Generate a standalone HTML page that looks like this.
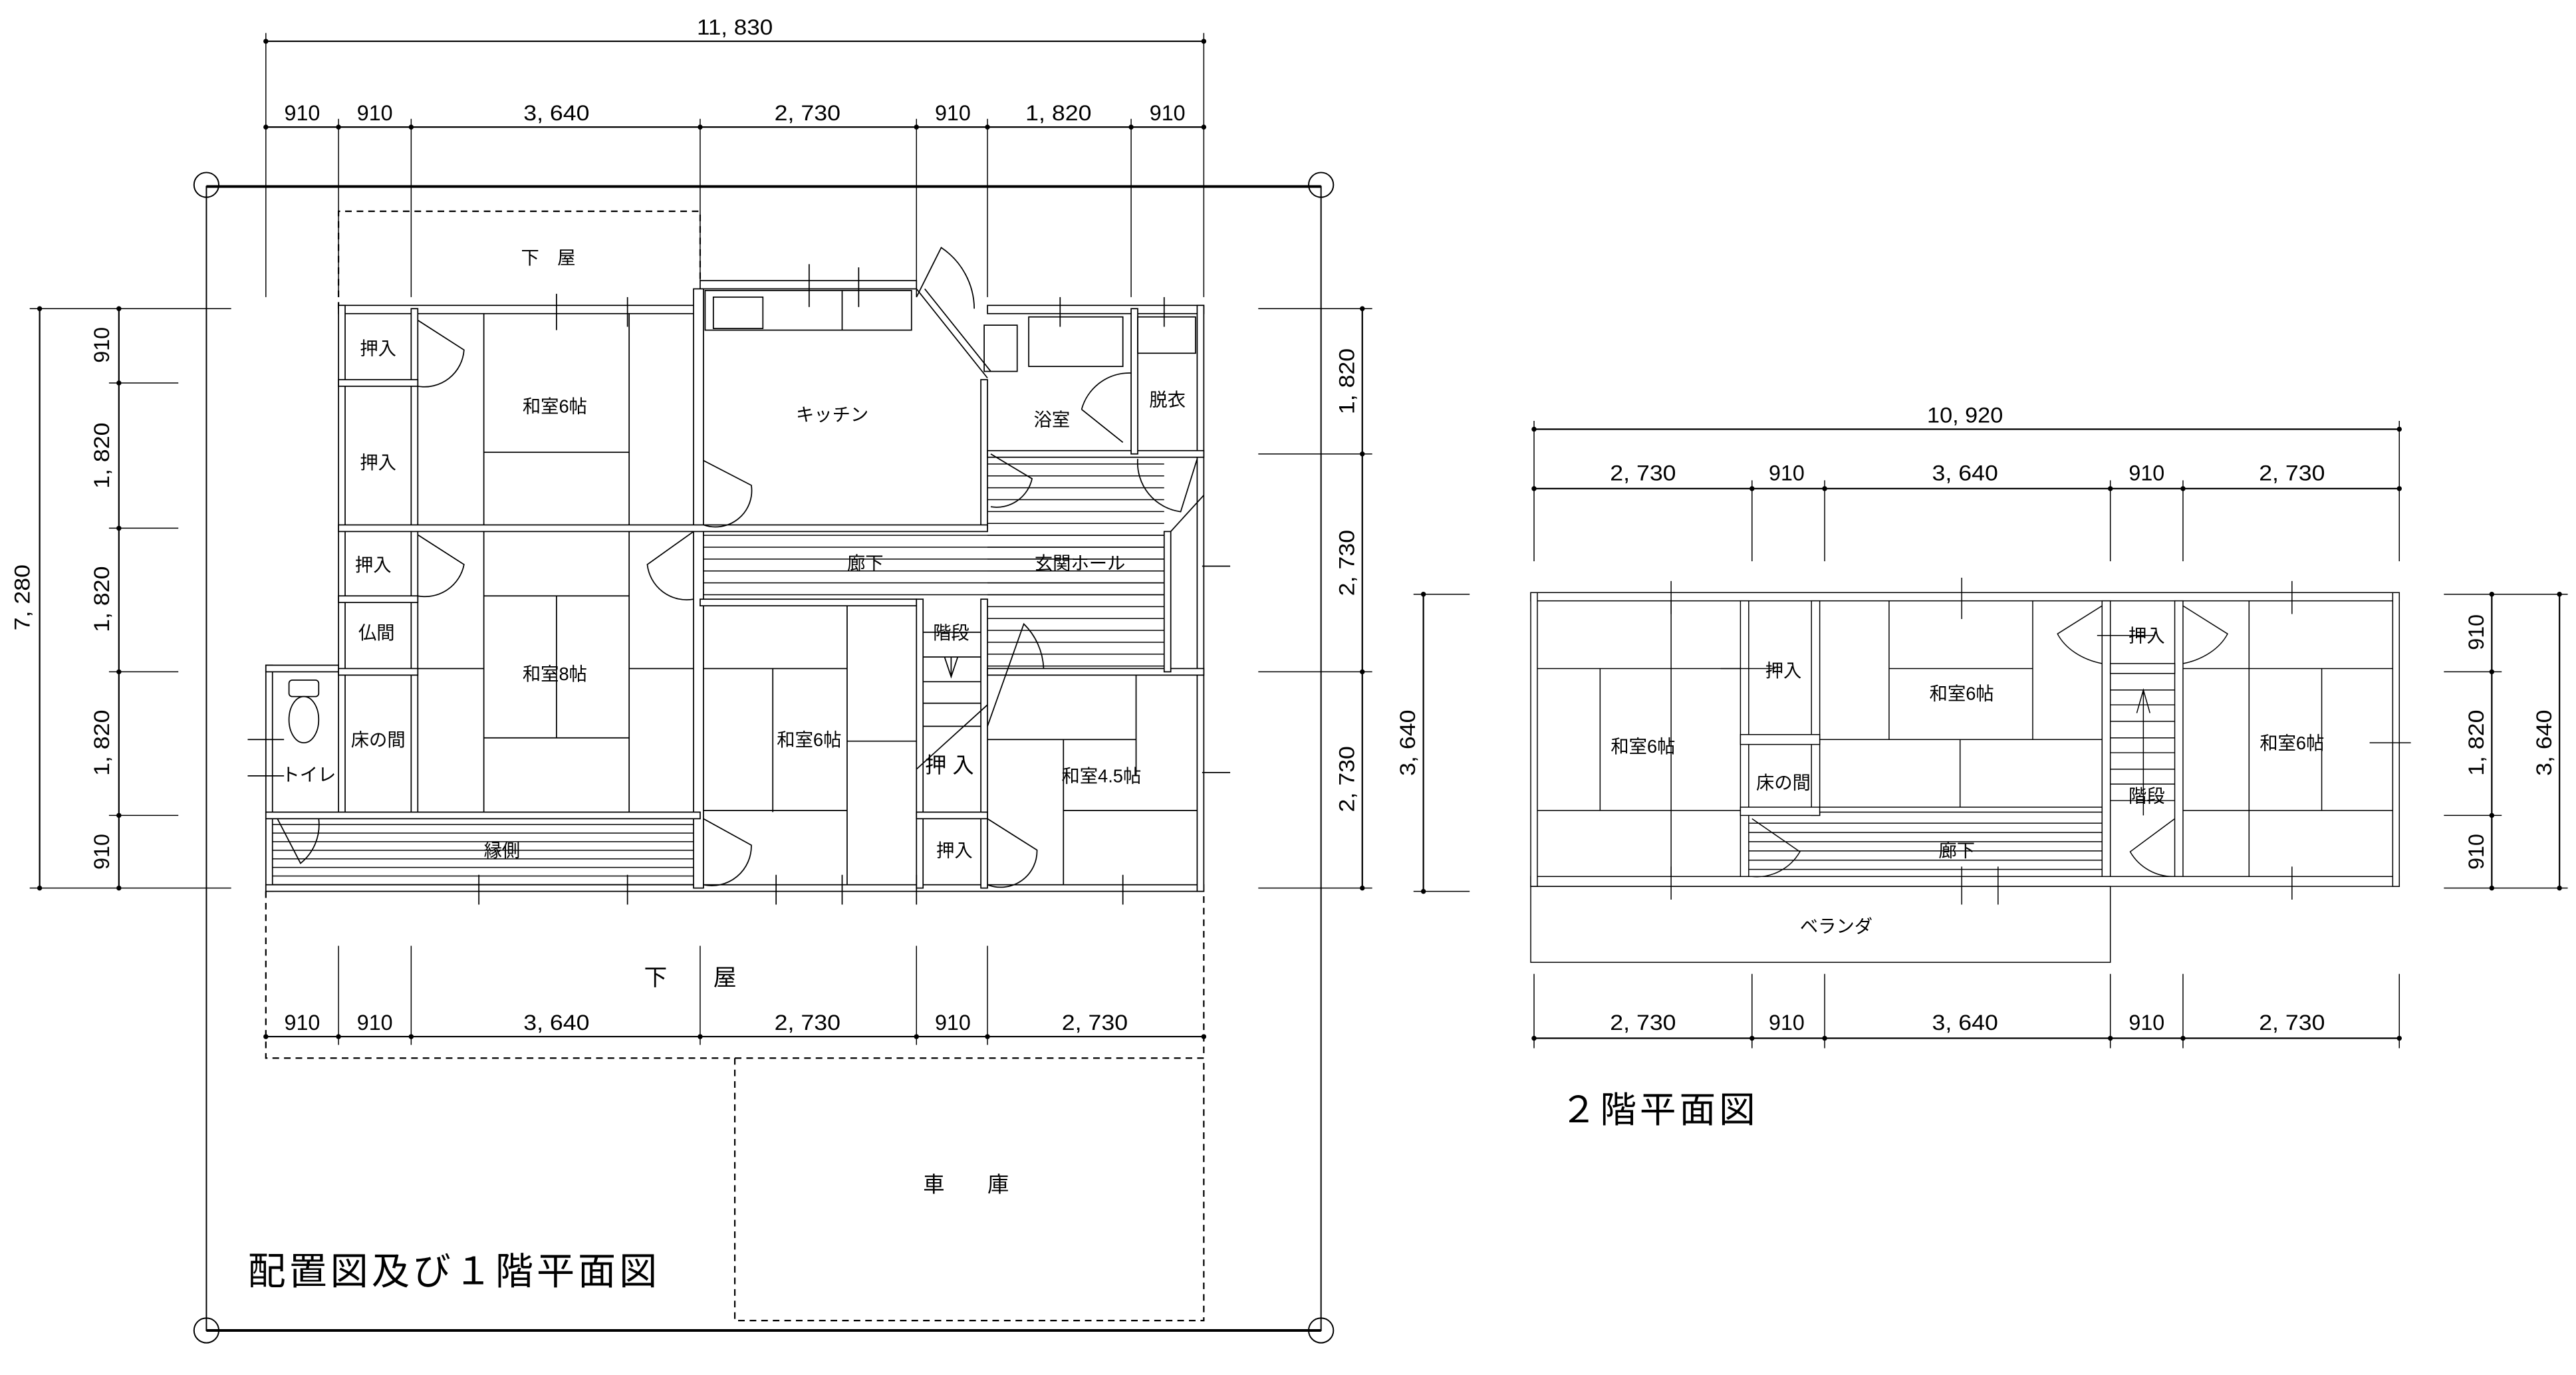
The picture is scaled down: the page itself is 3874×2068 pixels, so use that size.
<!DOCTYPE html>
<html><head><meta charset="utf-8"><style>
html,body{margin:0;padding:0;background:#fff;}
svg{display:block}
.d{font-family:"Liberation Sans Narrow","Liberation Sans",sans-serif;font-size:13px;fill:#000}
.r{font-family:"Liberation Sans","Noto Sans CJK JP",sans-serif;font-size:11px;fill:#000}
</style></head><body>
<svg xmlns="http://www.w3.org/2000/svg" width="3874" height="2068" viewBox="0 0 1560 833" preserveAspectRatio="none">
<defs>
<pattern id="h1" width="10" height="5.2" patternUnits="userSpaceOnUse"><line x1="0" y1="0.3" x2="10" y2="0.3" stroke="#000" stroke-width="0.6"/></pattern>
<pattern id="h2" width="10" height="7.2" patternUnits="userSpaceOnUse"><line x1="0" y1="0.3" x2="10" y2="0.3" stroke="#000" stroke-width="0.6"/></pattern>
<pattern id="h3" width="10" height="5.6" patternUnits="userSpaceOnUse"><line x1="0" y1="0.3" x2="10" y2="0.3" stroke="#000" stroke-width="0.6"/></pattern>
</defs>
<g fill="none" stroke="#000" stroke-width="0.6">
<!-- ===== 1F dimensions ===== -->
<line x1="161" y1="25" x2="729" y2="25" stroke-width="0.9"/>
<line x1="161" y1="77" x2="729" y2="77" stroke-width="0.9"/>
<line x1="161" y1="20" x2="161" y2="180"/><line x1="729" y1="20" x2="729" y2="180"/>
<line x1="205" y1="72" x2="205" y2="180"/><line x1="249" y1="72" x2="249" y2="180"/>
<line x1="424" y1="72" x2="424" y2="170"/><line x1="555" y1="72" x2="555" y2="180"/>
<line x1="598" y1="72" x2="598" y2="180"/><line x1="685" y1="72" x2="685" y2="180"/>
<line x1="161" y1="628" x2="729" y2="628" stroke-width="0.9"/>
<line x1="205" y1="573" x2="205" y2="633"/><line x1="249" y1="573" x2="249" y2="633"/>
<line x1="424" y1="573" x2="424" y2="633"/><line x1="555" y1="573" x2="555" y2="633"/>
<line x1="598" y1="573" x2="598" y2="633"/>
<line x1="24" y1="187" x2="24" y2="538" stroke-width="0.9"/>
<line x1="72" y1="187" x2="72" y2="538" stroke-width="0.9"/>
<line x1="18" y1="187" x2="140" y2="187"/><line x1="18" y1="538" x2="140" y2="538"/>
<line x1="66" y1="232" x2="108" y2="232"/><line x1="66" y1="320" x2="108" y2="320"/>
<line x1="66" y1="407" x2="108" y2="407"/><line x1="66" y1="494" x2="108" y2="494"/>
<line x1="825" y1="187" x2="825" y2="538" stroke-width="0.9"/>
<line x1="762" y1="187" x2="831" y2="187"/><line x1="762" y1="275" x2="831" y2="275"/>
<line x1="762" y1="407" x2="831" y2="407"/><line x1="762" y1="538" x2="831" y2="538"/>
<!-- site -->
<rect x="125" y="113" width="675" height="693" stroke-width="0.8"/>
<line x1="125" y1="113" x2="800" y2="113" stroke-width="1.6"/>
<line x1="125" y1="806" x2="800" y2="806" stroke-width="1.6"/>
<circle cx="125" cy="112" r="7.5" stroke-width="0.8"/><circle cx="800" cy="112" r="7.5" stroke-width="0.8"/>
<circle cx="125" cy="806" r="7.5" stroke-width="0.8"/><circle cx="800" cy="806" r="7.5" stroke-width="0.8"/>
<!-- dashed -->
<path d="M205,187 V128 H424 V170" stroke-dasharray="4,3" stroke-width="0.9"/>
<path d="M161,540 V641 H729 V540" stroke-dasharray="4,3" stroke-width="0.9"/>
<path d="M445,641 V800 H729 V641" stroke-dasharray="4,3" stroke-width="0.9"/>
</g>
<g fill="#000">
<circle cx="161" cy="25" r="1.5"/><circle cx="729" cy="25" r="1.5"/>
<circle cx="161" cy="77" r="1.5"/><circle cx="205" cy="77" r="1.5"/><circle cx="249" cy="77" r="1.5"/><circle cx="424" cy="77" r="1.5"/><circle cx="555" cy="77" r="1.5"/><circle cx="598" cy="77" r="1.5"/><circle cx="685" cy="77" r="1.5"/><circle cx="729" cy="77" r="1.5"/>
<circle cx="161" cy="628" r="1.5"/><circle cx="205" cy="628" r="1.5"/><circle cx="249" cy="628" r="1.5"/><circle cx="424" cy="628" r="1.5"/><circle cx="555" cy="628" r="1.5"/><circle cx="598" cy="628" r="1.5"/><circle cx="729" cy="628" r="1.5"/>
<circle cx="24" cy="187" r="1.5"/><circle cx="24" cy="538" r="1.5"/>
<circle cx="72" cy="187" r="1.5"/><circle cx="72" cy="232" r="1.5"/><circle cx="72" cy="320" r="1.5"/><circle cx="72" cy="407" r="1.5"/><circle cx="72" cy="494" r="1.5"/><circle cx="72" cy="538" r="1.5"/>
<circle cx="825" cy="187" r="1.5"/><circle cx="825" cy="275" r="1.5"/><circle cx="825" cy="407" r="1.5"/><circle cx="825" cy="538" r="1.5"/>
</g>
<g class="d" text-anchor="middle">
<text x="445" y="21" textLength="46" lengthAdjust="spacingAndGlyphs">11, 830</text>
<text x="183" y="73">910</text><text x="227" y="73">910</text>
<text x="337" y="73" textLength="40" lengthAdjust="spacingAndGlyphs">3, 640</text>
<text x="489" y="73" textLength="40" lengthAdjust="spacingAndGlyphs">2, 730</text>
<text x="577" y="73">910</text>
<text x="641" y="73" textLength="40" lengthAdjust="spacingAndGlyphs">1, 820</text>
<text x="707" y="73">910</text>
<text x="183" y="624">910</text><text x="227" y="624">910</text>
<text x="337" y="624" textLength="40" lengthAdjust="spacingAndGlyphs">3, 640</text>
<text x="489" y="624" textLength="40" lengthAdjust="spacingAndGlyphs">2, 730</text>
<text x="577" y="624">910</text>
<text x="663" y="624" textLength="40" lengthAdjust="spacingAndGlyphs">2, 730</text>
<text transform="translate(18,362) rotate(-90)" textLength="40" lengthAdjust="spacingAndGlyphs">7, 280</text>
<text transform="translate(66,209) rotate(-90)">910</text>
<text transform="translate(66,276) rotate(-90)" textLength="40" lengthAdjust="spacingAndGlyphs">1, 820</text>
<text transform="translate(66,363) rotate(-90)" textLength="40" lengthAdjust="spacingAndGlyphs">1, 820</text>
<text transform="translate(66,450) rotate(-90)" textLength="40" lengthAdjust="spacingAndGlyphs">1, 820</text>
<text transform="translate(66,516) rotate(-90)">910</text>
<text transform="translate(820,231) rotate(-90)" textLength="40" lengthAdjust="spacingAndGlyphs">1, 820</text>
<text transform="translate(820,341) rotate(-90)" textLength="40" lengthAdjust="spacingAndGlyphs">2, 730</text>
<text transform="translate(820,472) rotate(-90)" textLength="40" lengthAdjust="spacingAndGlyphs">2, 730</text>
</g>

<!-- ===== 1F plan ===== -->
<g fill="none" stroke="#000" stroke-width="0.7">
<!-- hatched areas -->
<rect x="165" y="496" width="255" height="40" fill="url(#h1)" stroke="none"/>
<rect x="426" y="322" width="279" height="41" fill="url(#h2)" stroke="none"/>
<rect x="598" y="279" width="107" height="126" fill="url(#h2)" stroke="none"/>
<!-- walls (thin rects) -->
<rect x="205" y="185" width="219" height="5" fill="#fff"/>
<rect x="424" y="170" width="131" height="5" fill="#fff"/>
<rect x="598" y="185" width="131" height="5" fill="#fff"/>
<rect x="205" y="185" width="4" height="309" fill="#fff"/>
<rect x="161" y="403" width="4" height="137" fill="#fff"/>
<rect x="161" y="403" width="44" height="4" fill="#fff"/>
<rect x="161" y="536" width="568" height="4" fill="#fff"/>
<rect x="725" y="185" width="4" height="355" fill="#fff"/>
<rect x="249" y="187" width="4" height="307" fill="#fff"/>
<rect x="420" y="175" width="6" height="363" fill="#fff"/>
<rect x="594" y="230" width="4" height="90" fill="#fff"/>
<rect x="205" y="318" width="393" height="4" fill="#fff"/>
<rect x="205" y="230" width="48" height="4" fill="#fff"/>
<rect x="205" y="361" width="48" height="4" fill="#fff"/>
<rect x="205" y="405" width="48" height="4" fill="#fff"/>
<rect x="161" y="492" width="263" height="4" fill="#fff"/>
<rect x="598" y="273" width="131" height="4" fill="#fff"/>
<rect x="685" y="187" width="4" height="88" fill="#fff"/>
<rect x="424" y="363" width="131" height="4" fill="#fff"/>
<rect x="555" y="363" width="4" height="175" fill="#fff"/>
<rect x="594" y="363" width="4" height="175" fill="#fff"/>
<rect x="598" y="405" width="131" height="4" fill="#fff"/>
<rect x="555" y="492" width="43" height="4" fill="#fff"/>
<rect x="705" y="322" width="4" height="85" fill="#fff"/>
<path d="M555,175 L598,229 M560,175 L600,225"/>
<path d="M729,300 L709,322"/>
<!-- kitchen counter / bath -->
<rect x="427" y="176" width="125" height="24"/>
<rect x="432" y="180" width="30" height="19"/>
<line x1="510" y1="176" x2="510" y2="200"/>
<rect x="596" y="197" width="20" height="28"/>
<rect x="623" y="192" width="57" height="30"/>
<rect x="689" y="192" width="35" height="22"/>
<!-- toilet -->
<rect x="175" y="412" width="18" height="10" rx="2"/>
<ellipse cx="184" cy="436" rx="9" ry="14"/>
<!-- stairs -->
<path d="M559,383 H594 M559,398 H594 M559,413 H594 M559,426 H594 M559,440 H594"/>
<path d="M576,398 V410 M572,398 L576,410 L580,398"/>
<path d="M598,427 L555,466"/>
<!-- tatami -->
<path d="M293,190 V318 M381,190 V318 M293,274 H381"/>
<path d="M293,322 V492 M381,322 V492 M293,361 H381 M293,447 H381 M337,361 V447 M253,405 H293 M381,405 H420"/>
<path d="M513,367 V536 M426,405 H513 M468,405 V492 M426,491 H513 M513,449 H555"/>
<path d="M688,409 V470 M598,448 H688 M644,448 V536 M644,491 H725"/>
<!-- doors -->
<path d="M253,194 L281,212 A24,24 0 0 1 253,234"/>
<path d="M253,324 L281,342 A24,24 0 0 1 253,361"/>
<path d="M426,279 L455,294 A22,22 0 0 1 426,318"/>
<path d="M420,322 L392,342 A24,24 0 0 0 420,363"/>
<path d="M426,496 L455,512 A24,24 0 0 1 426,536"/>
<path d="M598,496 L628,515 A22,22 0 0 1 598,536"/>
<path d="M600,275 L625,290 A22,22 0 0 1 600,307"/>
<path d="M598,440 L620,378 A40,40 0 0 1 632,405"/>
<path d="M555,180 L570,150 A45,45 0 0 1 590,187"/>
<path d="M655,248 L680,268 M655,248 A30,30 0 0 1 685,226"/>
<path d="M689,278 A30,30 0 0 0 715,310 L725,278"/>
<path d="M168,496 L182,523 A30,30 0 0 0 193,496"/>
<!-- cross marks -->
<path d="M337,178 V200 M380,180 V198 M490,160 V186 M520,162 V186 M642,180 V198 M705,180 V198 M150,448 H172 M150,470 H172 M728,343 H745 M728,468 H745 M290,530 V548 M380,530 V548 M470,530 V548 M510,530 V548 M555,530 V548 M680,530 V548"/>
</g>
<g class="r" text-anchor="middle">
<text x="332" y="160">下　屋</text>
<text x="418" y="597" style="font-size:14px">下　　屋</text>
<text x="585" y="722" style="font-size:13px">車　　庫</text>
<text x="229" y="215">押入</text><text x="229" y="284">押入</text><text x="226" y="346">押入</text>
<text x="228" y="387">仏間</text><text x="229" y="452">床の間</text><text x="187" y="473">トイレ</text>
<text x="336" y="250">和室6帖</text><text x="336" y="412">和室8帖</text>
<text x="504" y="255">キッチン</text><text x="637" y="258">浴室</text><text x="707" y="246">脱衣</text>
<text x="524" y="345">廊下</text><text x="654" y="345">玄関ホール</text>
<text x="576" y="387">階段</text><text x="490" y="452">和室6帖</text>
<text x="575" y="468" style="font-size:13px">押 入</text><text x="578" y="519">押入</text>
<text x="667" y="474">和室4.5帖</text><text x="304" y="519">縁側</text>
</g>
<text x="150" y="778" style="font-family:'Liberation Sans','Noto Sans CJK JP',sans-serif;font-size:23px;letter-spacing:2px">配置図及び１階平面図</text>

<!-- ===== 2F ===== -->
<g fill="none" stroke="#000" stroke-width="0.6">
<line x1="929" y1="260" x2="1453" y2="260" stroke-width="0.9"/>
<line x1="929" y1="296" x2="1453" y2="296" stroke-width="0.9"/>
<line x1="929" y1="629" x2="1453" y2="629" stroke-width="0.9"/>
<path d="M929,255 V340 M1453,255 V340 M1061,291 V340 M1105,291 V340 M1278,291 V340 M1322,291 V340"/>
<path d="M929,590 V635 M1061,590 V635 M1105,590 V635 M1278,590 V635 M1322,590 V635 M1453,590 V635"/>
<line x1="862" y1="360" x2="862" y2="540" stroke-width="0.9"/>
<path d="M856,360 H890 M856,540 H890"/>
<line x1="1509" y1="360" x2="1509" y2="538" stroke-width="0.9"/>
<line x1="1550" y1="360" x2="1550" y2="538" stroke-width="0.9"/>
<path d="M1480,360 H1555 M1480,407 H1515 M1480,494 H1515 M1480,538 H1555"/>
<rect x="1059" y="494" width="219" height="37" fill="url(#h3)" stroke="none"/>
<!-- walls -->
<rect x="927" y="359" width="526" height="5" fill="#fff"/>
<rect x="927" y="531" width="526" height="6" fill="#fff"/>
<rect x="927" y="359" width="4" height="178" fill="#fff"/>
<rect x="1449" y="359" width="4" height="178" fill="#fff"/>
<rect x="1054" y="364" width="5" height="167" fill="#fff"/>
<rect x="1097" y="364" width="5" height="130" fill="#fff"/>
<rect x="1273" y="364" width="5" height="167" fill="#fff"/>
<rect x="1317" y="364" width="5" height="167" fill="#fff"/>
<rect x="1054" y="445" width="48" height="6" fill="#fff"/>
<rect x="1054" y="489" width="48" height="5" fill="#fff"/>
<rect x="1102" y="489" width="171" height="3" fill="#fff"/>
<rect x="1278" y="402" width="39" height="6" fill="#fff"/>
<rect x="927" y="537" width="351" height="46"/>
<!-- stairs -->
<path d="M1278,418 H1317 M1278,427 H1317 M1278,437 H1317 M1278,447 H1317 M1278,456 H1317 M1278,466 H1317 M1278,475 H1317 M1278,485 H1317"/>
<path d="M1298,494 V418 M1294,432 L1298,418 L1302,432"/>
<!-- tatami -->
<path d="M931,405 H1054 M931,491 H1054 M969,405 V491 M1012,364 V531"/>
<path d="M1144,364 V448 M1231,364 V448 M1144,405 H1231 M1102,448 H1273 M1187,448 V489"/>
<path d="M1322,405 H1449 M1322,491 H1449 M1362,364 V531 M1406,405 V491"/>
<!-- doors -->
<path d="M1273,367 L1246,384 A40,30 0 0 0 1273,402"/>
<path d="M1322,367 L1349,384 A40,30 0 0 1 1322,402"/>
<path d="M1061,496 L1090,516 A30,30 0 0 1 1061,531"/>
<path d="M1317,496 L1290,516 A30,30 0 0 0 1317,531"/>
<!-- crosses -->
<path d="M1012,352 V372 M1188,350 V375 M1388,352 V372 M1042,405 H1075 M1270,385 H1305 M1435,450 H1460 M1012,525 V545 M1188,525 V548 M1210,525 V548 M1388,525 V545"/>
</g>
<g fill="#000">
<circle cx="929" cy="260" r="1.5"/><circle cx="1453" cy="260" r="1.5"/>
<circle cx="929" cy="296" r="1.5"/><circle cx="1061" cy="296" r="1.5"/><circle cx="1105" cy="296" r="1.5"/><circle cx="1278" cy="296" r="1.5"/><circle cx="1322" cy="296" r="1.5"/><circle cx="1453" cy="296" r="1.5"/>
<circle cx="929" cy="629" r="1.5"/><circle cx="1061" cy="629" r="1.5"/><circle cx="1105" cy="629" r="1.5"/><circle cx="1278" cy="629" r="1.5"/><circle cx="1322" cy="629" r="1.5"/><circle cx="1453" cy="629" r="1.5"/>
<circle cx="862" cy="360" r="1.5"/><circle cx="862" cy="540" r="1.5"/>
<circle cx="1509" cy="360" r="1.5"/><circle cx="1509" cy="407" r="1.5"/><circle cx="1509" cy="494" r="1.5"/><circle cx="1509" cy="538" r="1.5"/>
<circle cx="1550" cy="360" r="1.5"/><circle cx="1550" cy="538" r="1.5"/>
</g>
<g class="d" text-anchor="middle">
<text x="1190" y="256" textLength="46" lengthAdjust="spacingAndGlyphs">10, 920</text>
<text x="995" y="291" textLength="40" lengthAdjust="spacingAndGlyphs">2, 730</text>
<text x="1082" y="291">910</text>
<text x="1190" y="291" textLength="40" lengthAdjust="spacingAndGlyphs">3, 640</text>
<text x="1300" y="291">910</text>
<text x="1388" y="291" textLength="40" lengthAdjust="spacingAndGlyphs">2, 730</text>
<text x="995" y="624" textLength="40" lengthAdjust="spacingAndGlyphs">2, 730</text>
<text x="1082" y="624">910</text>
<text x="1190" y="624" textLength="40" lengthAdjust="spacingAndGlyphs">3, 640</text>
<text x="1300" y="624">910</text>
<text x="1388" y="624" textLength="40" lengthAdjust="spacingAndGlyphs">2, 730</text>
<text transform="translate(857,450) rotate(-90)" textLength="40" lengthAdjust="spacingAndGlyphs">3, 640</text>
<text transform="translate(1504,383) rotate(-90)">910</text>
<text transform="translate(1504,450) rotate(-90)" textLength="40" lengthAdjust="spacingAndGlyphs">1, 820</text>
<text transform="translate(1504,516) rotate(-90)">910</text>
<text transform="translate(1545,450) rotate(-90)" textLength="40" lengthAdjust="spacingAndGlyphs">3, 640</text>
</g>
<g class="r" text-anchor="middle">
<text x="995" y="456">和室6帖</text><text x="1080" y="410">押入</text><text x="1080" y="478">床の間</text>
<text x="1188" y="424">和室6帖</text><text x="1300" y="389">押入</text><text x="1300" y="486">階段</text>
<text x="1388" y="454">和室6帖</text><text x="1185" y="519">廊下</text><text x="1112" y="565">ベランダ</text>
</g>
<text x="945" y="680" style="font-family:'Liberation Sans','Noto Sans CJK JP',sans-serif;font-size:22px;letter-spacing:2px">２階平面図</text>
</svg>
</body></html>
